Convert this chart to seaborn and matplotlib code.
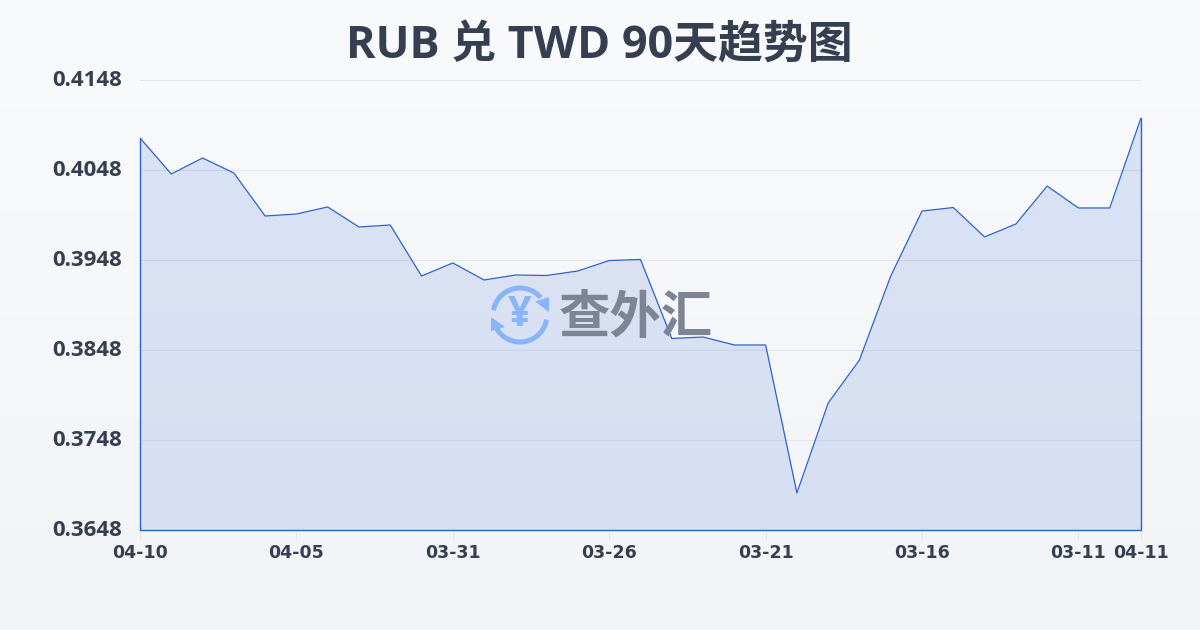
import numpy as np
import pandas as pd
import matplotlib
matplotlib.use('Agg')
import matplotlib.pyplot as plt
from matplotlib.patches import Arc, Polygon
import seaborn as sns

sns.set_theme(style='white')
plt.rcParams['font.family'] = ['Open Sans', 'Noto Sans CJK SC', 'DejaVu Sans']

# Rates, one per day slot
rates = [0.40836, 0.40436, 0.40613, 0.40447, 0.39969, 0.39991, 0.40069, 0.39847,
         0.39869, 0.39302, 0.39447, 0.39258, 0.39313, 0.39308, 0.39358, 0.39474,
         0.39486, 0.38608, 0.38624, 0.38536, 0.38536, 0.36891, 0.37891, 0.38369,
         0.39302, 0.40024, 0.40063, 0.39736, 0.39880, 0.40302, 0.40058, 0.40058,
         0.41058]
x_ticks = [0, 5, 10, 15, 20, 25, 30, 32]
x_labels = ['04-10', '04-05', '03-31', '03-26', '03-21', '03-16', '03-11', '04-11']
y_ticks = [0.3648, 0.3748, 0.3848, 0.3948, 0.4048, 0.4148]

df = pd.DataFrame({'pos': range(len(rates)), 'rate': rates})

LINE = '#2f62c8'
TEXT = '#363f50'
GRID = '#e3e6ec'

fig = plt.figure(figsize=(12, 6.3), dpi=100)

# Page background, a soft vertical gradient
bg = fig.add_axes([0, 0, 1, 1], zorder=0)
bg.imshow(np.linspace(0, 1, 256).reshape(-1, 1), aspect='auto',
          cmap=matplotlib.colors.LinearSegmentedColormap.from_list('page', ['#f9fafc', '#f3f4f7']))
bg.axis('off')

ax = fig.add_axes([140 / 1200, 100 / 630, 1001 / 1200, 450 / 630], zorder=1)
ax.patch.set_alpha(0)
ax.set_xlim(0, 32)
ax.set_ylim(0.3648, 0.4148)

ax.set_yticks(y_ticks)
ax.set_yticklabels(['%.4f' % v for v in y_ticks], fontsize=16, fontweight='bold', color=TEXT, va='center')
ax.set_xticks(x_ticks)
ax.set_xticklabels(x_labels, fontsize=12.5, fontweight='bold', color=TEXT, family='DejaVu Sans')
ax.tick_params(axis='x', length=7.2, width=0.8, color=GRID, pad=3, bottom=True)
ax.tick_params(axis='y', length=0, pad=13)
ax.grid(axis='y', color=GRID, lw=0.8)
ax.set_axisbelow(True)
sns.despine(ax=ax, left=True, bottom=True)

ax.fill_between(df['pos'], df['rate'], 0.3648, color='#4a7ad8', alpha=0.17, lw=0, zorder=2)
sns.lineplot(data=df, x='pos', y='rate', color=LINE, lw=0.9, ax=ax, zorder=3)
ax.set_xlabel('')
ax.set_ylabel('')
# closing edges of the area
ax.plot([0, 0, 32, 32], [rates[0], 0.3648, 0.3648, rates[-1]], color=LINE, lw=1.0, clip_on=False, zorder=3)

fig.text(599 / 1200, 1 - 46 / 630, 'RUB 兑 TWD 90天趋势图', ha='center', va='center',
         fontsize=32.3, fontweight='bold', color=TEXT)

# Watermark, drawn in pixel space on top of the chart
top = fig.add_axes([0, 0, 1, 1], zorder=2)
top.set_xlim(0, 1200)
top.set_ylim(630, 0)
top.axis('off')
LOGO = '#8ab4f8'
top.add_patch(Arc((520, 315), 54, 54, theta1=190, theta2=320, color=LOGO, lw=3.6))
top.add_patch(Arc((520, 315), 54, 54, theta1=10, theta2=150, color=LOGO, lw=3.6))
top.add_patch(Polygon([[535, 301.5], [549, 297], [549, 312]], closed=True, color=LOGO, lw=0))
top.add_patch(Polygon([[491, 317], [491, 331], [505, 327]], closed=True, color=LOGO, lw=0))
top.text(520, 315, '¥', ha='center', va='center', fontsize=30, fontweight='bold', color=LOGO,
         family=['Open Sans', 'DejaVu Sans'])
top.text(636, 318, '查外汇', ha='center', va='center', fontsize=37, fontweight='black', color='#7d8494',
         family=['Noto Sans CJK SC', 'DejaVu Sans'])

fig.savefig('out.png', dpi=100)
